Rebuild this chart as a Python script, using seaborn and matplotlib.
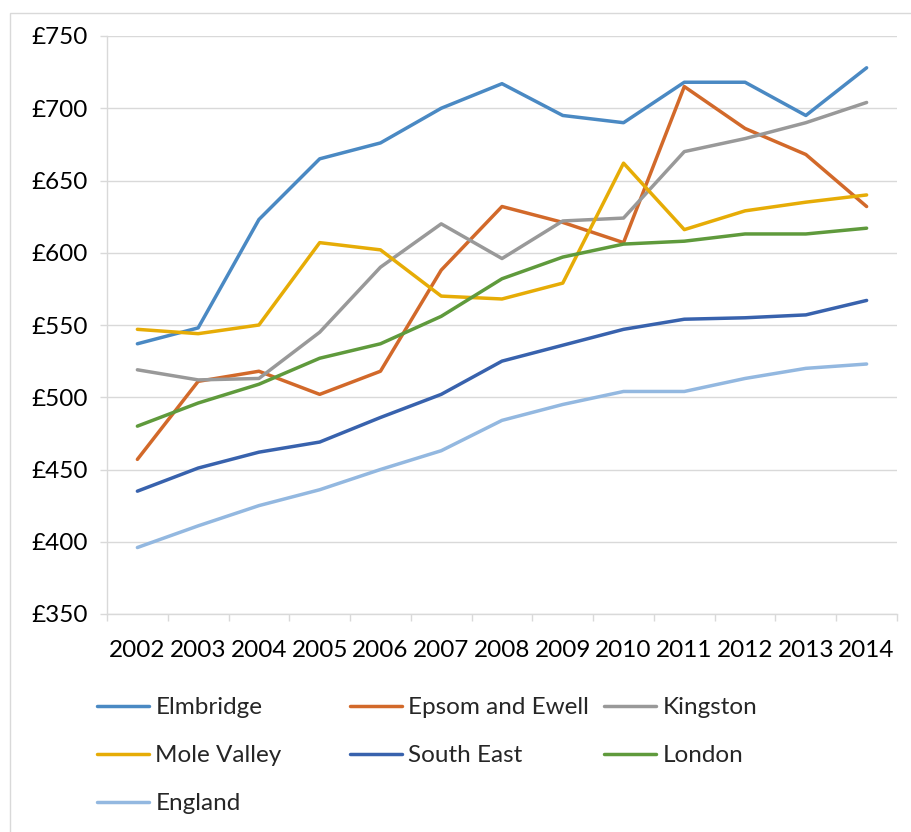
import matplotlib
matplotlib.use("Agg")
import matplotlib.pyplot as plt
from matplotlib.lines import Line2D
from matplotlib.patches import Rectangle
from matplotlib.ticker import FixedLocator, FuncFormatter
import seaborn as sns
import pandas as pd

# -------------------------
# DATA
# -------------------------
years = list(range(2002, 2015))

elmbridge = [537, 548, 623, 665, 676, 700, 717, 695, 690, 718, 718, 695, 728]
epsom_ewell = [457, 511, 518, 502, 518, 588, 632, 621, 607, 715, 686, 668, 632]
kingston = [519, 512, 513, 545, 590, 620, 596, 622, 624, 670, 679, 690, 704]
mole_valley = [547, 544, 550, 607, 602, 570, 568, 579, 662, 616, 629, 635, 640]
south_east = [435, 451, 462, 469, 486, 502, 525, 536, 547, 554, 555, 557, 567]
london = [480, 496, 509, 527, 537, 556, 582, 597, 606, 608, 613, 613, 617]
england = [396, 411, 425, 436, 450, 463, 484, 495, 504, 504, 513, 520, 523]

series_names = ["Elmbridge", "Epsom and Ewell", "Kingston", "Mole Valley",
                "South East", "London", "England"]
series_values = [elmbridge, epsom_ewell, kingston, mole_valley,
                 south_east, london, england]
colors = ["#4A89C3", "#D2692A", "#999999", "#E6AC06",
          "#3862AD", "#5F9A3C", "#93B8E0"]

y_ticks = [350, 400, 450, 500, 550, 600, 650, 700, 750]

# long-form table for seaborn
rows = []
for name, vals in zip(series_names, series_values):
    for yr, v in zip(years, vals):
        rows.append({"year": yr, "value": v, "area": name})
df = pd.DataFrame(rows)
palette = dict(zip(series_names, colors))

# -------------------------
# PLOT
# -------------------------
sns.set_theme(style="white")
plt.rcParams["font.family"] = ["Lato", "DejaVu Sans"]
FS = 17.5

fig = plt.figure(figsize=(9.12, 8.32), dpi=100)
ax = fig.add_axes([107 / 912, 1 - 614 / 832, 790 / 912, 578 / 832])

sns.lineplot(data=df, x="year", y="value", hue="area", palette=palette,
             hue_order=series_names, linewidth=2.5, ax=ax, legend=False,
             solid_capstyle="round")

ax.set_xlim(2001.5, 2014.5)
ax.set_ylim(350, 750)
ax.set_xlabel("")
ax.set_ylabel("")

ax.set_yticks(y_ticks)
ax.yaxis.set_major_formatter(FuncFormatter(lambda v, p: f"£{int(v)}"))
ax.set_xticks(years)
ax.set_xticklabels([str(y) for y in years])
ax.xaxis.set_minor_locator(FixedLocator([y + 0.5 for y in range(2001, 2015)]))

grid_c = "#D9D9D9"
ax.grid(axis="y", color=grid_c, linewidth=1.0)
ax.set_axisbelow(True)
for s in ["top", "right"]:
    ax.spines[s].set_visible(False)
for s in ["left", "bottom"]:
    ax.spines[s].set_color(grid_c)
    ax.spines[s].set_linewidth(1.0)

ax.tick_params(axis="x", which="major", length=0, pad=19, labelsize=FS,
               labelcolor="black")
ax.tick_params(axis="x", which="minor", length=5, color=grid_c, width=1.0,
               bottom=True)
ax.tick_params(axis="y", which="major", length=5, color=grid_c, width=1.0,
               pad=9, labelsize=FS, labelcolor="black", left=True)

# chart border like the spreadsheet frame
fig.patches.append(Rectangle((10 / 912, -0.1), 1.0, 1 - 13 / 832 + 0.1,
                             transform=fig.transFigure, fill=False,
                             edgecolor="#D9D9D9", linewidth=1.0))

# -------------------------
# LEGEND (three columns, row-wise order)
# -------------------------
handles = {n: Line2D([0], [0], color=c, linewidth=2.5, solid_capstyle="round")
           for n, c in zip(series_names, colors)}
columns = [["Elmbridge", "Mole Valley", "England"],
           ["Epsom and Ewell", "South East"],
           ["Kingston", "London"]]
col_x = [97 / 912, 350 / 912, 604 / 912]
for names, x0 in zip(columns, col_x):
    leg = fig.legend([handles[n] for n in names], names, loc="upper left",
                     bbox_to_anchor=(x0, 1 - 697 / 832), frameon=False,
                     fontsize=FS, handlelength=2.15, handletextpad=0.25,
                     labelspacing=1.12, borderaxespad=0, borderpad=0)

fig.savefig("out.png", dpi=100)
plt.close(fig)
